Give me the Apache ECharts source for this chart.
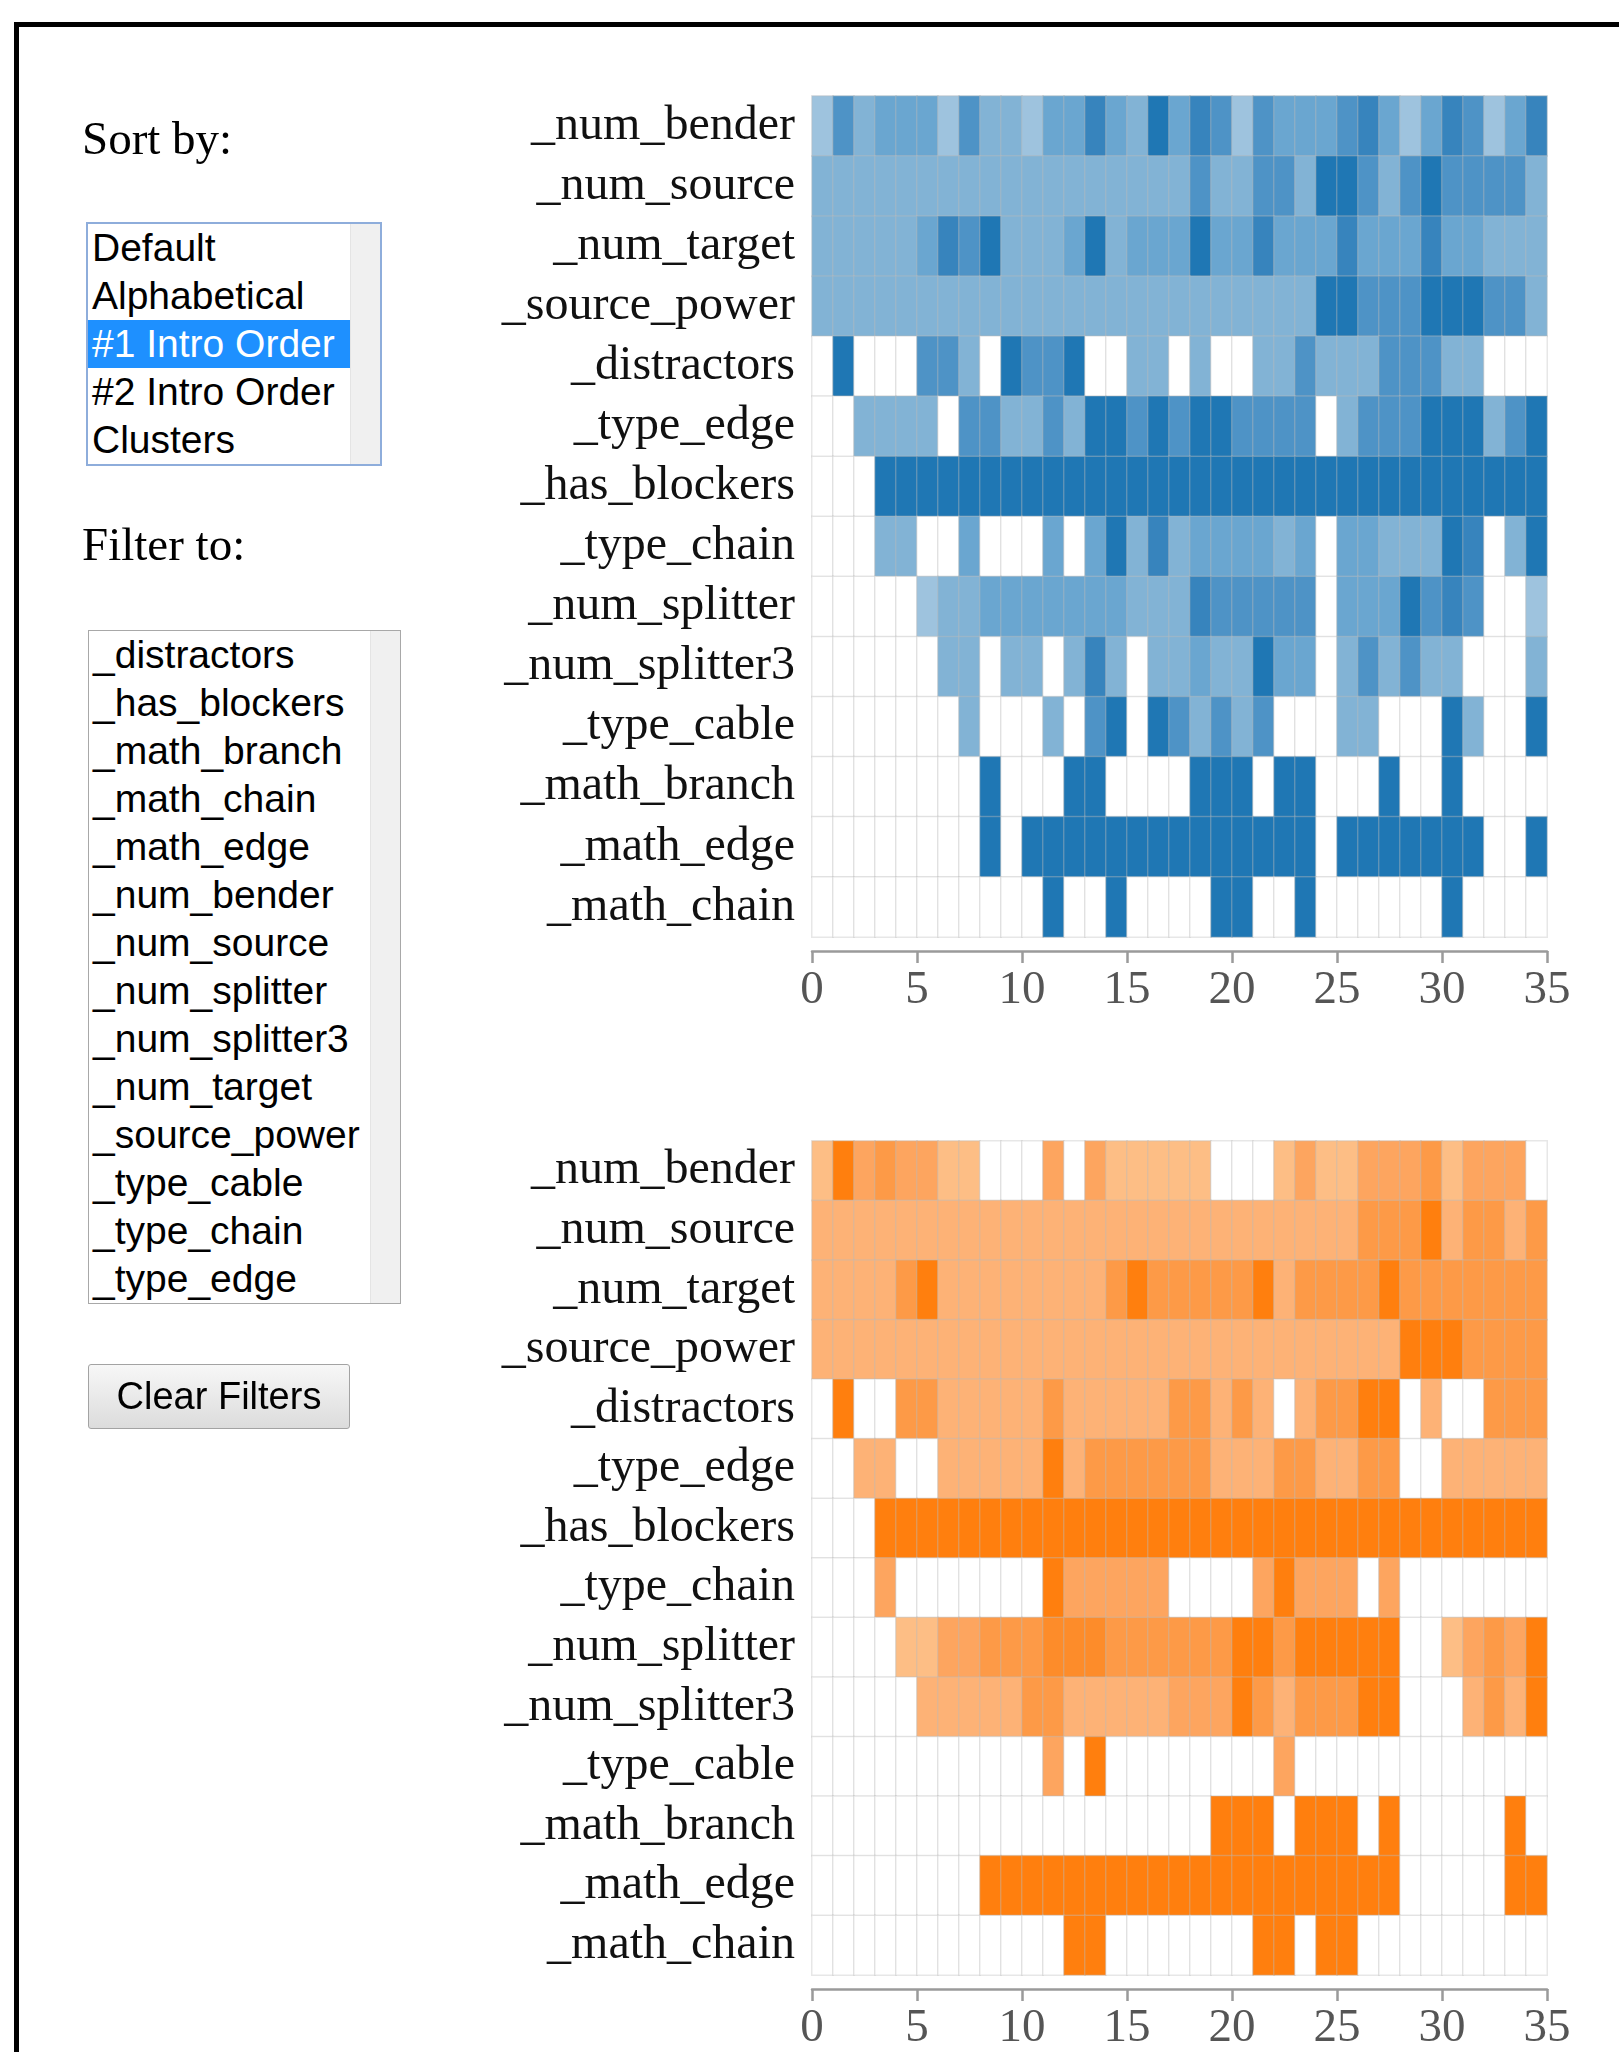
<!DOCTYPE html>
<html>
<head>
<meta charset="utf-8">
<script src="https://cdn.jsdelivr.net/npm/echarts/dist/echarts.min.js"></script>
<style>
  html, body { margin: 0; padding: 0; background: #fff; }
  body { width: 1619px; height: 2052px; position: relative; overflow: hidden; }
  #frame { position: absolute; left: 14px; top: 22px; width: 2000px; height: 2200px;
           border-left: 5px solid #000; border-top: 5px solid #000; }
  #main { position: absolute; left: 0; top: 0; width: 1619px; height: 2052px; z-index: 1; }
  .lbl { position: absolute; font-family: 'Liberation Serif', 'Times New Roman', serif;
         font-size: 47px; line-height: 47px; color: #000; z-index: 2; white-space: nowrap; }
  .list { position: absolute; background: #fff; z-index: 2; overflow: hidden;
          font-family: 'Liberation Sans', Arial, sans-serif; font-size: 39px; }
  .list .item { height: 48px; line-height: 48px; color: #000; white-space: nowrap; }
  .list .sel { background: #1e90ff; color: #fff; }
  .list .bar { position: absolute; top: 0; right: 0; bottom: 0; background: #f0f0f0;
               border-left: 1px solid #e4e4e4; }
  #clear { position: absolute; left: 88px; top: 1364px; width: 260px; height: 63px; z-index: 2;
           border: 1px solid #a3a3a3; border-radius: 3px;
           background: linear-gradient(#f7f7f7, #dcdcdc);
           font-family: 'Liberation Sans', Arial, sans-serif; font-size: 38px;
           line-height: 63px; text-align: center; color: #000; }
</style>
</head>
<body>
<div id="frame"></div>

<div class="lbl" style="left:82px;top:115px">Sort by:</div>
<div class="list" id="sortList" style="left:86px;top:222px;width:292px;height:240px;border:2px solid #8eaddb;"></div>

<div class="lbl" style="left:82px;top:521px">Filter to:</div>
<div class="list" id="filterList" style="left:88px;top:630px;width:311px;height:672px;border:1px solid #a8a8a8;"></div>

<div id="clear">Clear Filters</div>

<div id="main"></div>

<script>
// row labels (top to bottom)
const features = ['_num_bender', '_num_source', '_num_target', '_source_power', '_distractors',
  '_type_edge', '_has_blockers', '_type_chain', '_num_splitter', '_num_splitter3',
  '_type_cable', '_math_branch', '_math_edge', '_math_chain'];

const sortOptions = ['Default', 'Alphabetical', '#1 Intro Order', '#2 Intro Order', 'Clusters'];
const filterOptions = ['_distractors', '_has_blockers', '_math_branch', '_math_chain', '_math_edge',
  '_num_bender', '_num_source', '_num_splitter', '_num_splitter3', '_num_target',
  '_source_power', '_type_cable', '_type_chain', '_type_edge'];

const columns = Array.from({ length: 35 }, (_, i) => String(i));
const xTicks = { min: 0, max: 35, step: 5 };

// intensity level per cell, 0 = empty, 6 = strongest
const blueLevels = [
  [1,4,2,3,3,3,1,4,2,2, 1,3,3,5,3,2,6,3,5,4, 1,4,3,3,3,4,5,3,1,3, 5,4,1,3,5],
  [2,2,2,2,2,2,2,2,2,2, 2,2,2,2,2,2,2,2,4,2, 2,4,4,2,6,6,4,2,4,6, 4,4,4,4,2],
  [2,2,2,2,2,3,5,4,6,2, 2,2,3,6,2,3,3,3,6,3, 3,5,3,3,3,5,3,3,3,5, 3,3,2,2,2],
  [2,2,2,2,2,2,2,2,2,2, 2,2,2,2,2,2,2,2,2,2, 2,2,2,2,6,6,4,4,4,6, 6,6,4,4,2],
  [0,6,0,0,0,4,4,2,0,6, 4,4,6,0,0,2,2,0,2,0, 0,2,2,4,2,2,2,4,4,4, 2,2,0,0,0],
  [0,0,2,2,2,2,0,4,4,2, 2,4,2,6,6,4,6,4,6,6, 4,4,4,4,0,2,4,4,4,6, 6,6,2,4,6],
  [0,0,0,6,6,6,6,6,6,6, 6,6,6,6,6,6,6,6,6,6, 6,6,6,6,6,6,6,6,6,6, 6,6,6,6,6],
  [0,0,0,2,2,0,0,3,0,0, 0,3,0,3,6,2,5,2,3,3, 3,3,2,3,0,3,3,2,2,2, 6,5,0,2,6],
  [0,0,0,0,0,1,2,2,3,3, 3,3,3,3,3,2,2,2,5,4, 4,4,4,4,0,3,3,3,6,4, 5,4,0,0,1],
  [0,0,0,0,0,0,2,2,0,2, 2,0,2,5,2,0,2,2,3,2, 2,6,3,3,0,2,4,2,4,2, 2,0,0,0,2],
  [0,0,0,0,0,0,0,2,0,0, 0,2,0,4,6,0,6,4,2,4, 2,4,0,0,0,2,2,0,0,0, 6,2,0,0,6],
  [0,0,0,0,0,0,0,0,6,0, 0,0,6,6,0,0,0,0,6,6, 6,0,6,6,0,0,0,6,0,0, 6,0,0,0,0],
  [0,0,0,0,0,0,0,0,6,0, 6,6,6,6,6,6,6,6,6,6, 6,6,6,6,0,6,6,6,6,6, 6,6,0,0,6],
  [0,0,0,0,0,0,0,0,0,0, 0,6,0,0,6,0,0,0,0,6, 6,0,0,6,0,0,0,0,0,0, 6,0,0,0,0]
];

const orangeLevels = [
  [1,6,3,4,3,3,1,1,0,0, 0,3,0,3,1,1,1,1,1,0, 0,0,1,3,1,1,3,3,3,4, 1,3,3,3,0],
  [2,2,2,2,2,2,2,2,2,2, 2,2,2,2,2,2,2,2,2,2, 2,2,2,2,2,2,4,4,4,6, 2,4,4,2,4],
  [2,2,2,2,4,6,2,2,2,2, 2,2,2,2,4,6,4,4,4,4, 4,6,2,4,4,4,4,6,4,4, 4,4,4,4,4],
  [2,2,2,2,2,2,2,2,2,2, 2,2,2,2,2,2,2,2,2,2, 2,2,2,2,2,2,2,2,6,6, 6,4,4,4,4],
  [0,6,0,0,4,4,2,2,2,2, 2,4,2,2,2,2,2,4,4,2, 4,2,0,2,4,4,6,6,0,2, 0,0,4,4,4],
  [0,0,2,2,0,0,2,2,2,2, 2,6,2,4,4,4,4,4,4,2, 2,2,4,4,2,2,4,4,0,0, 2,2,2,2,2],
  [0,0,0,6,6,6,6,6,6,6, 6,6,6,6,6,6,6,6,6,6, 6,6,6,6,6,6,6,6,6,6, 6,6,6,6,6],
  [0,0,0,3,0,0,0,0,0,0, 0,6,3,3,3,3,3,0,0,0, 0,3,6,3,3,3,0,3,0,0, 0,0,0,0,0],
  [0,0,0,0,1,1,3,3,4,4, 4,5,5,5,4,4,4,4,4,4, 6,6,4,6,6,6,6,6,0,0, 1,3,4,3,6],
  [0,0,0,0,0,2,2,2,2,2, 4,4,2,2,2,2,2,3,3,3, 6,4,2,4,4,4,6,6,0,0, 0,2,4,2,6],
  [0,0,0,0,0,0,0,0,0,0, 0,3,0,6,0,0,0,0,0,0, 0,0,3,0,0,0,0,0,0,0, 0,0,0,0,0],
  [0,0,0,0,0,0,0,0,0,0, 0,0,0,0,0,0,0,0,0,6, 6,6,0,6,6,6,0,6,0,0, 0,0,0,6,0],
  [0,0,0,0,0,0,0,0,6,6, 6,6,6,6,6,6,6,6,6,6, 6,6,6,6,6,6,6,6,0,0, 0,0,0,6,6],
  [0,0,0,0,0,0,0,0,0,0, 0,0,6,6,0,0,0,0,0,0, 0,6,6,0,6,6,0,0,0,0, 0,0,0,0,0]
];

const blueShades = ['#ffffff', '#9ec3de', '#82b3d5', '#6aa6d0', '#4e93c6', '#3784bd', '#1f77b4'];
const orangeShades = ['#ffffff', '#fdbe85', '#fdb276', '#fda55f', '#fd9a47', '#fd8c2a', '#ff7f0e'];

// left panel lists
function fillList(id, items, selected, barWidth) {
    const box = document.getElementById(id);
    items.forEach(t => {
        const d = document.createElement('div');
        d.className = 'item' + (t === selected ? ' sel' : '');
        d.style.paddingLeft = '4px';
        d.style.marginRight = barWidth + 'px';
        d.textContent = t;
        box.appendChild(d);
    });
    const bar = document.createElement('div');
    bar.className = 'bar';
    bar.style.width = (barWidth - 1) + 'px';
    box.appendChild(bar);
}
fillList('sortList', sortOptions, '#1 Intro Order', 30);
fillList('filterList', filterOptions, null, 30);

function toCells(levels) {
    const out = [];
    levels.forEach((row, r) => row.forEach((v, c) => out.push([c, r, v])));
    return out;
}

const labelFont = 'Liberation Serif';
const gridBoxes = [
    { left: 812, top: 96, width: 735, height: 841 },
    { left: 812, top: 1141, width: 735, height: 841 }
];

const xAxes = [];
const yAxes = [];
gridBoxes.forEach((g, i) => {
    xAxes.push({
        gridIndex: i, type: 'category', data: columns, position: 'top',
        axisLine: { show: false }, axisTick: { show: false }, axisLabel: { show: false },
        splitLine: { show: false }
    });
    xAxes.push({
        gridIndex: i, type: 'value', position: 'bottom', offset: 14,
        min: xTicks.min, max: xTicks.max, interval: xTicks.step,
        axisLine: { show: true, lineStyle: { color: '#9a9a9a', width: 2.5 } },
        axisTick: { show: true, length: 12, lineStyle: { color: '#9a9a9a', width: 2.5 } },
        axisLabel: { fontFamily: labelFont, fontSize: 47, color: '#555', margin: 16 },
        splitLine: { show: false }
    });
    yAxes.push({
        gridIndex: i, type: 'category', data: features, inverse: true,
        axisLine: { show: false }, axisTick: { show: false },
        axisLabel: { interval: 0, fontFamily: labelFont, fontSize: 48, color: '#111', margin: 17 },
        splitLine: { show: false }
    });
});

const cellStyle = { borderColor: 'rgba(185,185,185,0.35)', borderWidth: 1.5 };

const myChart = echarts.init(document.getElementById('main'));
const option = {
    animation: false,
    grid: gridBoxes,
    xAxis: xAxes,
    yAxis: yAxes,
    visualMap: [
        { type: 'piecewise', show: false, seriesIndex: 0, dimension: 2,
          pieces: blueShades.map((c, i) => ({ value: i, color: c })) },
        { type: 'piecewise', show: false, seriesIndex: 1, dimension: 2,
          pieces: orangeShades.map((c, i) => ({ value: i, color: c })) }
    ],
    series: [
        { type: 'heatmap', xAxisIndex: 0, yAxisIndex: 0, data: toCells(blueLevels),
          itemStyle: cellStyle, emphasis: { disabled: true } },
        { type: 'heatmap', xAxisIndex: 2, yAxisIndex: 1, data: toCells(orangeLevels),
          itemStyle: cellStyle, emphasis: { disabled: true } }
    ]
};
myChart.setOption(option);
</script>
</body>
</html>
